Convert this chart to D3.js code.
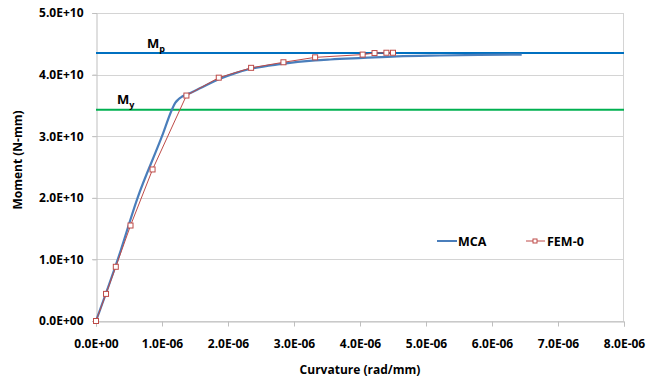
<!DOCTYPE html>
<html>
<head>
<meta charset="utf-8">
<script src="https://cdn.jsdelivr.net/npm/d3@7"></script>
<style>
  html, body { margin: 0; padding: 0; background: #fff; }
  svg { display: block; }
  text { font-family: "Open Sans", "Liberation Sans", sans-serif; font-weight: 700; fill: #000; }
</style>
</head>
<body>
<svg id="chart" width="662" height="381"></svg>
<script>
// Moment–curvature curves (curvature in rad/mm, moment in N-mm)
const mcaCurvature = [0, 0.33e-6, 0.63e-6, 1.0e-6, 1.15e-6, 1.2e-6, 1.25e-6, 1.3e-6, 1.43e-6, 1.6e-6, 1.85e-6, 2.1e-6, 2.33e-6, 2.79e-6, 3.32e-6, 3.55e-6, 4.05e-6, 4.56e-6, 5.21e-6, 5.8e-6, 6.45e-6];
const mcaMoment    = [0, 1.0e10, 2.0e10, 3.0e10, 3.43e10, 3.54e10, 3.6e10, 3.64e10, 3.70e10, 3.79e10, 3.92e10, 4.02e10, 4.09e10, 4.17e10, 4.23e10, 4.245e10, 4.27e10, 4.295e10, 4.31e10, 4.32e10, 4.325e10];

const femCurvature = [0, 0.152e-6, 0.30e-6, 0.523e-6, 0.857e-6, 1.37e-6, 1.86e-6, 2.35e-6, 2.84e-6, 3.32e-6, 4.04e-6, 4.22e-6, 4.40e-6, 4.50e-6];
const femMoment    = [0, 0.44e10, 0.88e10, 1.55e10, 2.46e10, 3.66e10, 3.95e10, 4.11e10, 4.20e10, 4.28e10, 4.325e10, 4.35e10, 4.355e10, 4.355e10];

// Plastic and yield moments
const plasticMoment = 4.35e10;
const yieldMoment = 3.43e10;

const xTicks = [0, 1e-6, 2e-6, 3e-6, 4e-6, 5e-6, 6e-6, 7e-6, 8e-6];
const yTicks = [0, 1e10, 2e10, 3e10, 4e10, 5e10];
const seriesNames = ["MCA", "FEM-0"];

const svg = d3.select("#chart");
const x = d3.scaleLinear().domain([0, 8e-6]).range([96, 624]);
const y = d3.scaleLinear().domain([0, 5e10]).range([321, 13]);

// Excel-style scientific label, e.g. 1.0E-06 / 4.0E+10
const sci = v => {
  if (v === 0) return "0.0E+00";
  const e = Math.floor(Math.log10(Math.abs(v)) + 1e-9);
  const m = v / Math.pow(10, e);
  const sign = e < 0 ? "-" : "+";
  return m.toFixed(1) + "E" + sign + String(Math.abs(e)).padStart(2, "0");
};

// Horizontal gridlines
svg.append("g")
  .selectAll("line")
  .data(yTicks)
  .join("line")
  .attr("x1", 92).attr("x2", 624)
  .attr("y1", d => Math.round(y(d)) + 0.5).attr("y2", d => Math.round(y(d)) + 0.5)
  .attr("stroke", "#d4d4d4").attr("stroke-width", 1);

// Right border of the plot area
svg.append("line")
  .attr("x1", 623.5).attr("x2", 623.5).attr("y1", 13).attr("y2", 321)
  .attr("stroke", "#d4d4d4");

// X axis
const xAxis = svg.append("g")
  .attr("transform", "translate(0," + (Math.round(y(0)) + 0.5) + ")")
  .call(d3.axisBottom(x).tickValues(xTicks).tickSize(5).tickPadding(13).tickFormat(sci));
xAxis.select(".domain").attr("stroke", "#bfbfbf");
xAxis.selectAll(".tick line").attr("stroke", "#bfbfbf");
xAxis.selectAll(".tick text").attr("font-size", 12).attr("font-weight", 700)
  .attr("font-family", "Open Sans, sans-serif").attr("fill", "#000");

// Y axis
const yAxis = svg.append("g")
  .attr("transform", "translate(96.5,0)")
  .call(d3.axisLeft(y).tickValues(yTicks).tickSize(4).tickPadding(9).tickFormat(sci));
yAxis.select(".domain").attr("stroke", "#bfbfbf");
yAxis.selectAll(".tick line").attr("stroke", "#bfbfbf");
yAxis.selectAll(".tick text").attr("font-size", 12).attr("font-weight", 700)
  .attr("font-family", "Open Sans, sans-serif").attr("fill", "#000");

// Axis titles
svg.append("text")
  .attr("x", 360).attr("y", 374)
  .attr("text-anchor", "middle").attr("font-size", 12)
  .text("Curvature (rad/mm)");
svg.append("text")
  .attr("transform", "translate(22,160) rotate(-90)")
  .attr("text-anchor", "middle").attr("font-size", 12)
  .text("Moment (N-mm)");

// Reference moment lines
svg.append("line")
  .attr("x1", 96).attr("x2", 624).attr("y1", y(plasticMoment)).attr("y2", y(plasticMoment))
  .attr("stroke", "#0070c0").attr("stroke-width", 2);
svg.append("line")
  .attr("x1", 96).attr("x2", 624).attr("y1", y(yieldMoment)).attr("y2", y(yieldMoment))
  .attr("stroke", "#00b050").attr("stroke-width", 2);

const mpLabel = svg.append("text").attr("x", 147).attr("y", y(plasticMoment) - 5).attr("font-size", 13);
mpLabel.append("tspan").text("M");
mpLabel.append("tspan").attr("dy", 4).attr("font-size", 9).text("p");
const myLabel = svg.append("text").attr("x", 117).attr("y", y(yieldMoment) - 6).attr("font-size", 13);
myLabel.append("tspan").text("M");
myLabel.append("tspan").attr("dy", 4).attr("font-size", 9).text("y");

// Curves
const line = d3.line().x(d => x(d[0])).y(d => y(d[1])).curve(d3.curveMonotoneX);
const mcaData = d3.zip(mcaCurvature, mcaMoment);
const femData = d3.zip(femCurvature, femMoment);

svg.append("path").datum(mcaData)
  .attr("d", line)
  .attr("fill", "none").attr("stroke", "#4a7ebb").attr("stroke-width", 2.2);

svg.append("path").datum(femData)
  .attr("d", d3.line().x(d => x(d[0])).y(d => y(d[1])))
  .attr("fill", "none").attr("stroke", "#be4b48").attr("stroke-width", 1);

svg.append("g").selectAll("rect")
  .data(femData)
  .join("rect")
  .attr("x", d => x(d[0]) - 2.5).attr("y", d => y(d[1]) - 2.5)
  .attr("width", 5).attr("height", 5)
  .attr("fill", "#fff").attr("stroke", "#be4b48").attr("stroke-width", 1);

// Legend
const legend = svg.append("g");
legend.append("line").attr("x1", 437).attr("x2", 457).attr("y1", 241).attr("y2", 241)
  .attr("stroke", "#4a7ebb").attr("stroke-width", 2);
legend.append("text").attr("x", 458).attr("y", 245.5).attr("font-size", 12.5).text(seriesNames[0]);
legend.append("line").attr("x1", 526).attr("x2", 545).attr("y1", 241).attr("y2", 241)
  .attr("stroke", "#be4b48").attr("stroke-width", 1);
legend.append("rect").attr("x", 533).attr("y", 239).attr("width", 4).attr("height", 4)
  .attr("fill", "#fff").attr("stroke", "#be4b48");
legend.append("text").attr("x", 547).attr("y", 245.5).attr("font-size", 12.5).text(seriesNames[1]);
</script>
</body>
</html>
